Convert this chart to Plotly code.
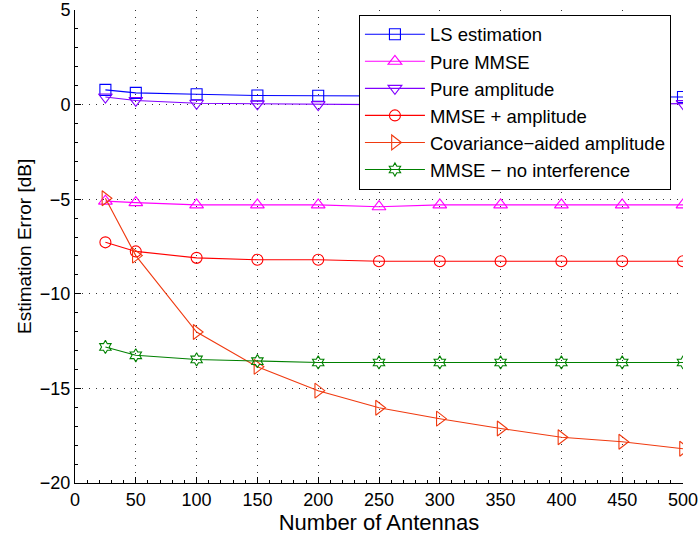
import plotly.graph_objects as go

antennas = [25, 50, 100, 150, 200, 250, 300, 350, 400, 450, 500]

ls_est = [0.78, 0.62, 0.55, 0.48, 0.47, 0.46, 0.45, 0.44, 0.43, 0.42, 0.40]
pure_mmse = [-5.1, -5.18, -5.3, -5.3, -5.3, -5.4, -5.3, -5.3, -5.3, -5.3, -5.3]
pure_amp = [0.40, 0.22, 0.07, 0.04, 0.0, 0.0, 0.0, 0.0, 0.0, 0.02, 0.05]
mmse_amp = [-7.28, -7.76, -8.1, -8.2, -8.2, -8.28, -8.28, -8.28, -8.28, -8.28, -8.28]
cov_amp = [-4.95, -7.98, -12.02, -13.86, -15.12, -16.02, -16.6, -17.12, -17.58, -17.82, -18.19]
mmse_noint = [-12.81, -13.25, -13.47, -13.56, -13.63, -13.63, -13.63, -13.63, -13.63, -13.63, -13.63]

series = [
    ("LS estimation", ls_est, "#0000ff", "square-open", 11),
    ("Pure MMSE", pure_mmse, "#ff00ff", "triangle-up-open", 12),
    ("Pure amplitude", pure_amp, "#8000ff", "triangle-down-open", 12),
    ("MMSE + amplitude", mmse_amp, "#ff0000", "circle-open", 11),
    ("Covariance\u2212aided amplitude", cov_amp, "#f03a10", "triangle-right-open", 13),
    ("MMSE \u2212 no interference", mmse_noint, "#008000", "hexagram-open", 10),
]

x_ticks = list(range(0, 501, 50))
y_ticks = list(range(-20, 6, 5))

fig = go.Figure()
for name, vals, color, sym, sz in series:
    fig.add_trace(go.Scatter(
        x=antennas, y=vals, name=name, mode="lines+markers",
        line=dict(color=color, width=1.1),
        marker=dict(symbol=sym, size=sz, color=color, line=dict(color=color, width=1.1)),
    ))

FAM = "Liberation Sans, Arial, sans-serif"
font = dict(family=FAM, size=18, color="black")

fig.update_layout(
    width=699, height=538, autosize=False,
    margin=dict(l=75, r=16, t=10, b=55, autoexpand=False),
    paper_bgcolor="white", plot_bgcolor="white",
    font=font,
    showlegend=True,
    legend=dict(
        x=0.467, y=0.99, xanchor="left", yanchor="top",
        bgcolor="white", bordercolor="black", borderwidth=1,
        font=dict(family=FAM, size=18.5, color="black"),
        itemwidth=60, tracegroupgap=0,
    ),
    xaxis=dict(
        range=[0, 500], tickvals=x_ticks, ticktext=[str(v) for v in x_ticks],
        showline=True, linecolor="black", linewidth=1, automargin=False,
        ticks="inside", ticklen=6, tickcolor="black",
        showgrid=True, gridcolor="#333333", gridwidth=1, griddash="1px,6px",
        zeroline=False, ticklabeloverflow="allow",
        minor=dict(dtick=10, ticks="inside", ticklen=3, tickcolor="black", showgrid=False),
        title=dict(text="Number of Antennas", standoff=6),
    ),
    yaxis=dict(
        range=[-20, 5], tickvals=y_ticks, ticktext=[str(v).replace("-", "\u2212") for v in y_ticks],
        showline=True, linecolor="black", linewidth=1, automargin=False,
        ticks="inside", ticklen=6, tickcolor="black",
        showgrid=True, gridcolor="#333333", gridwidth=1, griddash="1px,6px",
        zeroline=False, ticklabeloverflow="allow",
        minor=dict(dtick=1, ticks="inside", ticklen=3, tickcolor="black", showgrid=False),
    ),
    annotations=[dict(
        text="Estimation Error [dB]", textangle=-90, showarrow=False,
        xref="paper", yref="paper", x=-0.083, y=0.5, xanchor="center", yanchor="middle",
        font=dict(family=FAM, size=19, color="black"),
    )],
)

fig.write_html(
    "out.html",
    config={"displayModeBar": False, "responsive": False},
    post_script="document.documentElement.style.margin='0';document.body.style.margin='0';"
                "document.body.style.overflow='hidden';document.documentElement.style.overflow='hidden';",
)
